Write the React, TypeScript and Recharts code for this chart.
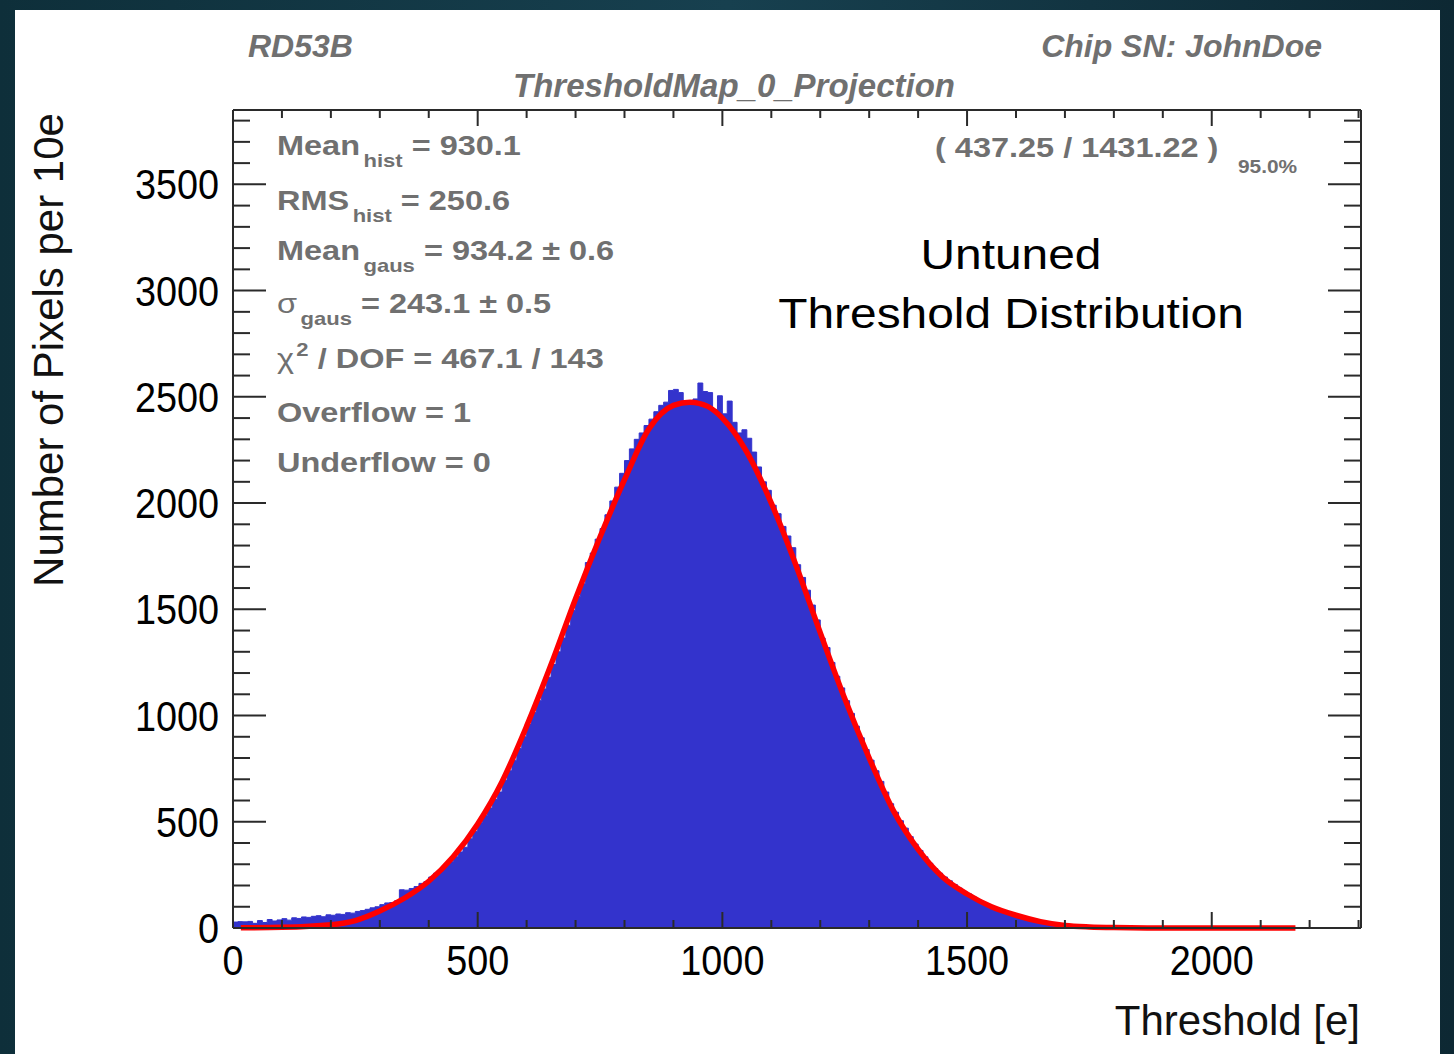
import { ComposedChart, Area, Line, XAxis, YAxis } from "recharts";

// histogram: 10e bins starting at 0
const binWidth = 10;
const binCounts = [
  28, 30, 29, 31, 22, 35, 26, 40, 33, 38,
  44, 37, 48, 45, 52, 50, 55, 58, 53, 62,
  60, 66, 64, 72, 70, 78, 82, 88, 95, 100,
  110, 118, 120, 128, 180, 178, 186, 195, 210, 218,
  240, 258, 275, 296, 312, 335, 358, 380, 420, 455,
  495, 530, 565, 605, 640, 695, 740, 790, 845, 900,
  960, 1015, 1070, 1125, 1180, 1240, 1300, 1365, 1425, 1495,
  1560, 1620, 1720, 1765, 1830, 1880, 1945, 2010, 2075, 2140,
  2200, 2255, 2300, 2330, 2365, 2395, 2430, 2460, 2475, 2530,
  2535, 2520, 2480, 2475, 2490, 2565, 2525, 2520, 2440, 2505,
  2420, 2480, 2380, 2330, 2345, 2305, 2240, 2170, 2100, 2060,
  1990, 1950, 1890, 1845, 1790, 1710, 1650, 1590, 1520, 1450,
  1365, 1320, 1250, 1185, 1130, 1070, 1010, 950, 895, 840,
  790, 740, 690, 640, 585, 545, 505, 470, 430, 395,
  365, 335, 305, 280, 258, 240, 222, 205, 188, 172,
  160, 145, 132, 120, 108, 98, 88, 80, 72, 64,
  56, 50, 44, 40, 36, 30, 25, 18, 14, 10,
  4,
];

// gaussian fit curve
const fitX = [16, 100, 200, 250, 300, 350, 400, 450, 500, 550, 600, 650, 700, 750, 800, 850, 900, 934, 970, 1000, 1050, 1100, 1150, 1200, 1250, 1300, 1350, 1400, 1450, 1500, 1550, 1600, 1650, 1700, 1750, 1800, 1900, 2000, 2100, 2171];
const fitY = [1, 3, 15, 35, 80, 140, 220, 335, 490, 690, 950, 1240, 1550, 1840, 2110, 2350, 2460, 2475, 2455, 2400, 2240, 2000, 1710, 1390, 1080, 800, 550, 370, 240, 160, 100, 60, 30, 12, 5, 2, 0, 0, 0, 0];

const xRange = [0, 2305];
const yRange = [0, 3850];
const xMajor = [0, 500, 1000, 1500, 2000];
const yMajor = [0, 500, 1000, 1500, 2000, 2500, 3000, 3500];
const xTicks = Array.from({ length: 24 }, (_, i) => i * 100);
const yTicks = Array.from({ length: 39 }, (_, i) => i * 100);

const statLines = [
  { main: "Mean", sub: "hist", rest: " = 930.1" },
  { main: "RMS", sub: "hist", rest: " = 250.6" },
  { main: "Mean", sub: "gaus", rest: " = 934.2 ± 0.6" },
  { main: "σ", sub: "gaus", rest: " = 243.1 ± 0.5", greek: true },
  { main: "χ", sup: "2", rest: " / DOF = 467.1 / 143", greek: true },
  { main: "Overflow = 1" },
  { main: "Underflow = 0" },
];
const statBaselines = [155, 210, 260, 313, 368, 422, 472];

const histData = [
  ...binCounts.map((c, i) => ({ x: i * binWidth, y: c })),
  { x: binCounts.length * binWidth, y: 0 },
];
const fitData = fitX.map((x, i) => ({ x, y: fitY[i] }));

const FONT = '"Liberation Sans", Arial, Helvetica, sans-serif';
const gray = "#707070";
const tickColor = "#2a2a2a";
const axisStyle = { stroke: tickColor, strokeWidth: 2 };

const BottomTick = (p: any) => {
  const { x, y, payload } = p;
  const v = payload.value as number;
  const major = xMajor.includes(v);
  return (
    <g>
      <line x1={x} y1={y} x2={x} y2={y - (major ? 16 : 8)} stroke={tickColor} strokeWidth={2} />
      {major && (
        <text
          transform={`translate(${x},${y + 47}) scale(0.9,1)`}
          textAnchor="middle"
          fontFamily={FONT}
          fontSize={42}
          fill="#000"
        >
          {v}
        </text>
      )}
    </g>
  );
};

const TopTick = (p: any) => {
  const { x, y, payload } = p;
  const major = xMajor.includes(payload.value);
  return <line x1={x} y1={y} x2={x} y2={y + (major ? 16 : 8)} stroke={tickColor} strokeWidth={2} />;
};

const LeftTick = (p: any) => {
  const { x, y, payload } = p;
  const v = payload.value as number;
  const major = yMajor.includes(v);
  return (
    <g>
      <line x1={x} y1={y} x2={x + (major ? 33 : 17)} y2={y} stroke={tickColor} strokeWidth={2} />
      {major && (
        <text
          transform={`translate(${x - 14},${y + 15}) scale(0.9,1)`}
          textAnchor="end"
          fontFamily={FONT}
          fontSize={42}
          fill="#000"
        >
          {v}
        </text>
      )}
    </g>
  );
};

const RightTick = (p: any) => {
  const { x, y, payload } = p;
  const major = yMajor.includes(payload.value);
  return <line x1={x} y1={y} x2={x - (major ? 33 : 17)} y2={y} stroke={tickColor} strokeWidth={2} />;
};

const StatLine = ({ line, y }: { line: any; y: number }) => (
  <text transform={`translate(277,${y}) scale(1.16,1)`} fontFamily={FONT} fontWeight="bold" fontSize={28} fill={gray}>
    <tspan fontWeight={line.greek ? "normal" : "bold"}>{line.main}</tspan>
    {line.sub && (
      <tspan dx={3} dy={12} fontSize={19}>
        {line.sub}
      </tspan>
    )}
    {line.sup && (
      <tspan dx={2} dy={-12} fontSize={19}>
        {line.sup}
      </tspan>
    )}
    {line.rest && (
      <tspan dy={line.sub ? -12 : line.sup ? 12 : 0} fontSize={28}>
        {line.rest}
      </tspan>
    )}
  </text>
);

export default function App() {
  return (
    <div
      style={{
        position: "absolute",
        left: 0,
        top: 0,
        width: 1454,
        height: 1054,
        overflow: "hidden",
        background: "linear-gradient(90deg, #0e2f3a 0%, #17404f 50%, #0d2833 100%)",
      }}
    >
      <div style={{ position: "absolute", left: 15, top: 10, width: 1425, height: 1044, background: "#fff" }} />
      <div style={{ position: "absolute", left: 0, top: 0 }}>
        <ComposedChart width={1454} height={1054} margin={{ top: 109, right: 92, bottom: 125, left: 232 }}>
          <XAxis
            xAxisId="b"
            dataKey="x"
            type="number"
            domain={xRange}
            ticks={xTicks}
            interval={0}
            height={1}
            tickSize={0}
            tickMargin={0}
            tickLine={false}
            axisLine={axisStyle}
            tick={BottomTick}
          />
          <XAxis
            xAxisId="top"
            orientation="top"
            dataKey="x"
            type="number"
            domain={xRange}
            allowDataOverflow
            ticks={xTicks}
            interval={0}
            height={1}
            tickSize={0}
            tickMargin={0}
            tickLine={false}
            axisLine={axisStyle}
            tick={TopTick}
          />
          <YAxis
            yAxisId="l"
            type="number"
            domain={yRange}
            ticks={yTicks}
            interval={0}
            width={1}
            tickSize={0}
            tickMargin={0}
            tickLine={false}
            axisLine={axisStyle}
            tick={LeftTick}
          />
          <YAxis
            yAxisId="r"
            orientation="right"
            type="number"
            domain={yRange}
            allowDataOverflow
            ticks={yTicks}
            interval={0}
            width={1}
            tickSize={0}
            tickMargin={0}
            tickLine={false}
            axisLine={axisStyle}
            tick={RightTick}
          />
          <Area
            xAxisId="b"
            yAxisId="l"
            data={histData}
            dataKey="y"
            type="stepAfter"
            baseValue={0}
            fill="#3333cc"
            fillOpacity={1}
            stroke="#3333cc"
            strokeWidth={1}
            dot={false}
            activeDot={false}
            isAnimationActive={false}
          />
          <Line
            xAxisId="b"
            yAxisId="l"
            data={fitData}
            dataKey="y"
            type="monotone"
            stroke="#ff0000"
            strokeWidth={5.5}
            dot={false}
            activeDot={false}
            isAnimationActive={false}
          />
        </ComposedChart>
      </div>
      <svg width={1454} height={1054} style={{ position: "absolute", left: 0, top: 0, pointerEvents: "none" }}>
        <text x={248} y={57} fontFamily={FONT} fontWeight="bold" fontStyle="italic" fontSize={32} fill={gray}>
          RD53B
        </text>
        <text x={1322} y={57} textAnchor="end" fontFamily={FONT} fontWeight="bold" fontStyle="italic" fontSize={32} fill={gray}>
          Chip SN: JohnDoe
        </text>
        <text x={734} y={97} textAnchor="middle" fontFamily={FONT} fontWeight="bold" fontStyle="italic" fontSize={33} fill={gray}>
          ThresholdMap_0_Projection
        </text>

        {statLines.map((l, i) => (
          <StatLine key={i} line={l} y={statBaselines[i]} />
        ))}

        <text transform="translate(935,157) scale(1.16,1)" fontFamily={FONT} fontWeight="bold" fontSize={28} fill={gray}>
          ( 437.25 / 1431.22 )
        </text>
        <text transform="translate(1238,173) scale(1.16,1)" fontFamily={FONT} fontWeight="bold" fontSize={18} fill={gray}>
          95.0%
        </text>

        <text transform="translate(1011,269) scale(1.14,1)" textAnchor="middle" fontFamily={FONT} fontSize={42} fill="#000">
          Untuned
        </text>
        <text transform="translate(1011,328) scale(1.14,1)" textAnchor="middle" fontFamily={FONT} fontSize={42} fill="#000">
          Threshold Distribution
        </text>

        <text transform="translate(63,350) rotate(-90)" textAnchor="middle" fontFamily={FONT} fontSize={42} fill="#111">
          Number of Pixels per 10e
        </text>
        <text x={1360} y={1035} textAnchor="end" fontFamily={FONT} fontSize={42} fill="#111">
          Threshold [e]
        </text>
      </svg>
    </div>
  );
}
